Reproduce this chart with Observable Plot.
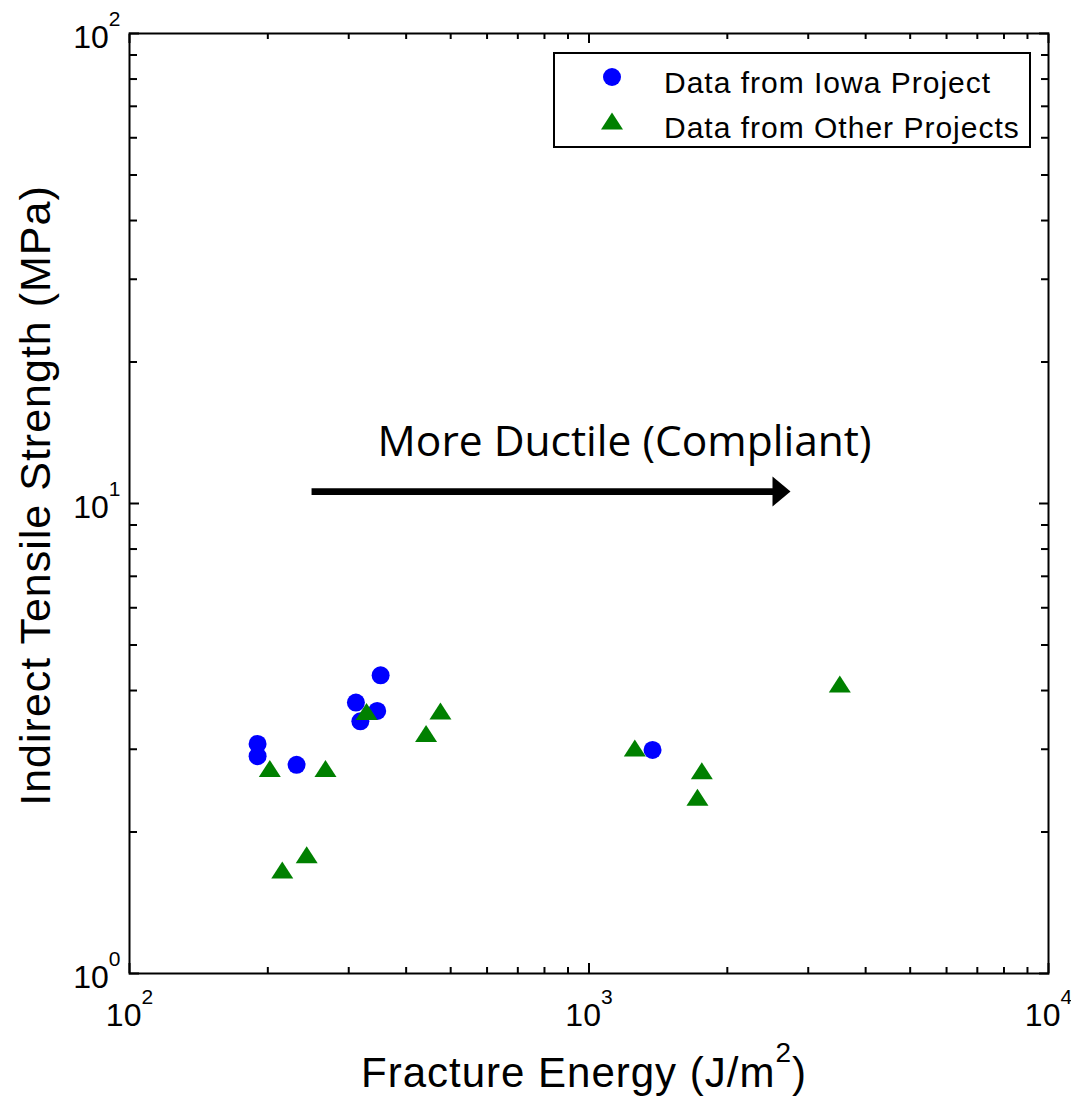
<!DOCTYPE html>
<html>
<head>
<meta charset="utf-8">
<script src="https://cdn.jsdelivr.net/npm/d3@7"></script>
<script src="https://cdn.jsdelivr.net/npm/@observablehq/plot@0.6"></script>
<style>
  html, body { margin: 0; padding: 0; background: white; }
  #chart { width: 1071px; height: 1097px; }
</style>
</head>
<body>
<div id="chart"></div>
<script>
// ---- data ----
const seriesNames = ["Data from Iowa Project", "Data from Other Projects"];
const iowaEnergy   = [352, 311, 346, 318, 190, 190, 231, 1375];
const iowaStrength = [4.31, 3.77, 3.62, 3.44, 3.08, 2.90, 2.78, 2.99];
const otherEnergy   = [202, 267, 328, 475, 442, 243, 215, 1258, 1760, 1722, 3514];
const otherStrength = [2.73, 2.73, 3.61, 3.62, 3.24, 1.79, 1.66, 3.02, 2.70, 2.37, 4.13];

const xMajorTicks = [100, 1000, 10000];
const yMajorTicks = [1, 10, 100];
const xMinorTicks = [200, 300, 400, 500, 600, 700, 800, 900, 2000, 3000, 4000, 5000, 6000, 7000, 8000, 9000];
const yMinorTicks = [2, 3, 4, 5, 6, 7, 8, 9, 20, 30, 40, 50, 60, 70, 80, 90];

const xLabel = "Fracture Energy (J/m²)";
const yLabel = "Indirect Tensile Strength (MPa)";

const annotationText = ["More Ductile (Compliant)"];
const annotationEnergy = [1195];
const annotationStrength = [13.49];
const arrowStartEnergy = [249];
const arrowLineEndEnergy = [2637];
const arrowTipEnergy = [2745];
const arrowStrength = [10.6];

// ---- tables built from the arrays ----
const iowa = iowaEnergy.map((e, i) => ({energy: e, strength: iowaStrength[i]}));
const other = otherEnergy.map((e, i) => ({energy: e, strength: otherStrength[i]}));
const annotations = annotationText.map((t, i) => ({text: t, energy: annotationEnergy[i], strength: annotationStrength[i]}));
const arrows = arrowStrength.map((s, i) => ({x1: arrowStartEnergy[i], x2: arrowLineEndEnergy[i], tip: arrowTipEnergy[i], y: s}));

// custom symbols
const triangleSymbol = {
  draw(ctx) { ctx.moveTo(0, -8.5); ctx.lineTo(11, 8.5); ctx.lineTo(-11, 8.5); ctx.closePath(); }
};
const arrowHeadSymbol = {
  draw(ctx) { ctx.moveTo(0, 0); ctx.lineTo(-18, -15); ctx.lineTo(-18, 15); ctx.closePath(); }
};

const supFmt = d => "10^" + Math.round(Math.log10(d));

const svg = Plot.plot({
  width: 1071,
  height: 1097,
  marginLeft: 129,
  marginRight: 23,
  marginTop: 33,
  marginBottom: 124,
  x: {type: "log", domain: [100, 10000], label: null},
  y: {type: "log", domain: [1, 100], label: null},
  style: {fontFamily: "'Liberation Sans', Arial, sans-serif", fontSize: "32px", background: "white", color: "black", overflow: "visible"},
  marks: [
    // inward ticks
    Plot.axisX(xMinorTicks, {anchor: "bottom", tickSize: -6, strokeWidth: 2, tickFormat: () => "", label: null}),
    Plot.axisX(xMajorTicks, {anchor: "bottom", tickSize: -10, strokeWidth: 2, tickFormat: () => "", label: null}),
    Plot.axisX(xMinorTicks, {anchor: "top", tickSize: -5, strokeWidth: 2, tickFormat: () => "", label: null}),
    Plot.axisX(xMajorTicks, {anchor: "top", tickSize: -9, strokeWidth: 2, tickFormat: () => "", label: null}),
    Plot.axisY(yMinorTicks, {anchor: "left", tickSize: -8, strokeWidth: 2, tickFormat: () => "", label: null}),
    Plot.axisY(yMajorTicks, {anchor: "left", tickSize: -10, strokeWidth: 2, tickFormat: () => "", label: null}),
    Plot.axisY(yMinorTicks, {anchor: "right", tickSize: -8, strokeWidth: 2, tickFormat: () => "", label: null}),
    Plot.axisY(yMajorTicks, {anchor: "right", tickSize: -10, strokeWidth: 2, tickFormat: () => "", label: null}),
    // tick labels
    Plot.axisX(xMajorTicks, {anchor: "bottom", tickSize: 0, tickPadding: 30, tickFormat: supFmt, label: null}),
    Plot.axisY(yMajorTicks, {anchor: "left", tickSize: 0, tickPadding: 9, dy: 4, tickFormat: supFmt, label: null}),
    Plot.frame({stroke: "black", strokeWidth: 2}),
    // axis titles
    Plot.text([xLabel], {frameAnchor: "bottom", textAnchor: "middle", lineAnchor: "middle", dx: -5, dy: 100, fontSize: 42, fill: "black"}),
    Plot.text([yLabel], {frameAnchor: "left", textAnchor: "middle", lineAnchor: "middle", rotate: -90, dx: -93, dy: -8, fontSize: 43, fill: "black"}),
    // annotation
    Plot.text(annotations, {x: "energy", y: "strength", text: "text", fontSize: 42.5, fontFamily: "'Open Sans', sans-serif", fill: "black"}),
    Plot.link(arrows, {x1: "x1", x2: "x2", y1: "y", y2: "y", stroke: "black", strokeWidth: 6.7}),
    Plot.dot(arrows, {x: "tip", y: "y", symbol: arrowHeadSymbol, fill: "black", r: 9}),
    // data
    Plot.dot(iowa, {x: "energy", y: "strength", r: 9, fill: "#0000ff"}),
    Plot.dot(other, {x: "energy", y: "strength", symbol: triangleSymbol, r: 9, fill: "#008000"})
  ]
});

document.getElementById("chart").appendChild(svg);

// superscripts on tick labels and axis title
d3.select(svg).selectAll("text").each(function() {
  const t = d3.select(this);
  const s = this.textContent;
  const m = /^10\^(-?\d+)$/.exec(s);
  if (m) {
    t.text(null);
    t.append("tspan").text("10");
    t.append("tspan").attr("dy", -22).attr("font-size", 21).text(m[1]);
  } else if (s === xLabel) {
    const parts = /^(.*)²(.*)$/.exec(s);
    t.text(null).style("letter-spacing", "1px");
    t.append("tspan").text(parts[1]);
    t.append("tspan").attr("dy", -25).attr("font-size", 28).text("2");
    t.append("tspan").attr("dy", 25).text(parts[2]);
  } else if (s === yLabel) {
    t.style("letter-spacing", "1px");
  }
});

// legend
const lg = d3.select(svg).append("g").attr("aria-label", "legend").attr("text-anchor", "start");
lg.append("rect").attr("x", 554).attr("y", 53).attr("width", 476).attr("height", 94)
  .attr("fill", "white").attr("stroke", "black").attr("stroke-width", 2);
lg.append("circle").attr("cx", 612).attr("cy", 77).attr("r", 9).attr("fill", "#0000ff");
lg.append("path").attr("d", "M0,-8.5L11,8.5L-11,8.5Z").attr("transform", "translate(612,121)").attr("fill", "#008000");
seriesNames.forEach((name, i) => {
  lg.append("text").attr("x", 664).attr("y", 93 + i * 45).attr("text-anchor", "start")
    .attr("font-size", 30).style("letter-spacing", "1px").attr("fill", "black").text(name);
});
</script>
</body>
</html>
